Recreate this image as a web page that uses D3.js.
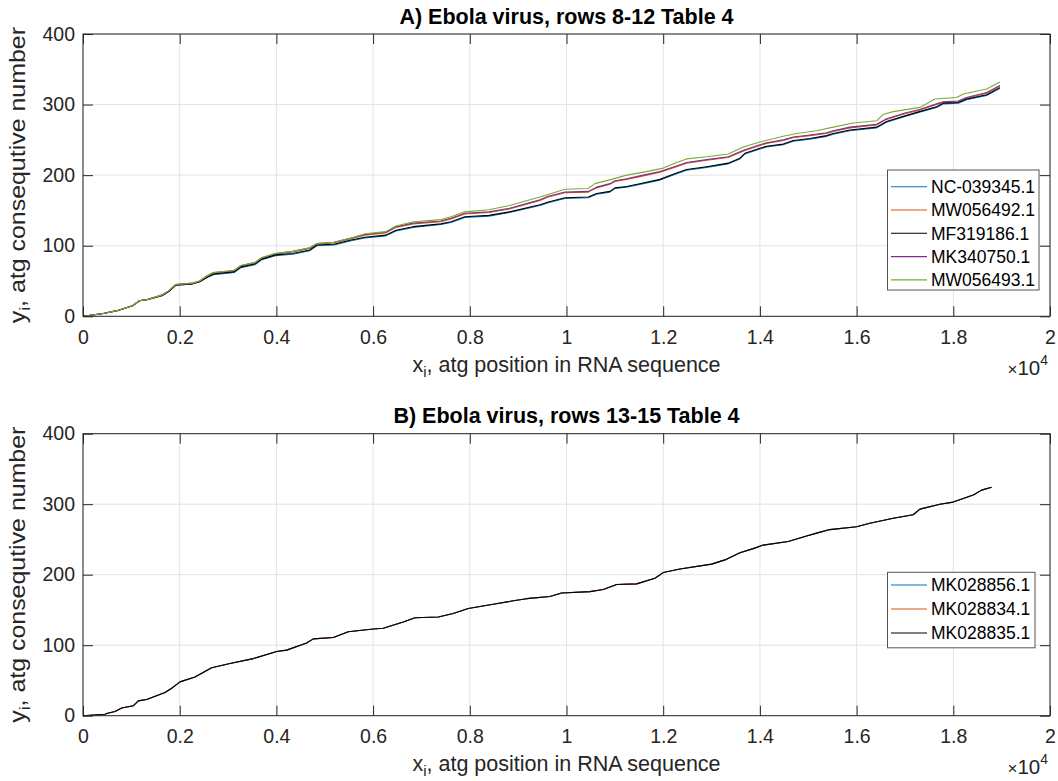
<!DOCTYPE html>
<html>
<head>
<meta charset="utf-8">
<script src="https://cdn.jsdelivr.net/npm/d3@7"></script>
<style>
  html, body { margin: 0; padding: 0; background: #ffffff; }
  svg { display: block; font-family: "Liberation Sans", Arial, Helvetica, sans-serif; }
</style>
</head>
<body>
<svg id="chart" width="1058" height="781"></svg>
<script>
// ---- Data: cumulative count of "atg" codons (y) against their position in the sequence (x) ----

// Panel A, rows 8-12 of Table 4
const nc039345 = [[0,0],[420,4],[704,8],[1025,15],[1168,22],[1345,24],[1630,29],[1773,35],[1915,44],[2271,46],[2414,49],[2560,55],[2699,59],[3127,62],[3268,69],[3553,73],[3696,80],[3981,86],[4337,88],[4692,93],[4835,100],[5191,101],[5546,107],[5832,111],[6260,114],[6473,121],[6829,126],[7400,130],[7612,133],[7897,140],[8396,142],[8822,147],[9451,157],[9623,161],[9968,167],[10450,168],[10623,173],[10898,176],[11002,181],[11244,183],[11587,188],[11932,193],[12277,202],[12484,207],[12898,211],[13345,216],[13587,223],[13690,230],[14000,237],[14139,240],[14483,243],[14689,248],[15035,251],[15380,255],[15516,258],[15862,263],[16414,267],[16620,275],[17000,283],[17300,289],[17655,296],[17792,301],[18102,302],[18275,307],[18690,313],[18964,323]];
const mw056492 = [[0,0],[420,4],[704,8],[1025,15],[1168,22],[1345,24],[1630,30],[1773,36],[1915,45],[2271,47],[2414,50],[2560,56],[2699,61],[3127,64],[3268,71],[3553,75],[3696,82],[3981,88],[4337,91],[4692,96],[4835,102],[5191,104],[5546,110],[5832,115],[6260,118],[6473,126],[6829,131],[7400,134],[7612,138],[7897,145],[8396,147],[8822,152],[9451,164],[9623,169],[9968,175],[10450,176],[10623,182],[10898,187],[11002,191],[11244,194],[11587,199],[11932,204],[12277,212],[12484,217],[12898,221],[13345,225],[13587,232],[13690,235],[14000,242],[14139,245],[14483,249],[14689,253],[15035,256],[15380,259],[15516,262],[15862,267],[16414,271],[16620,279],[17000,287],[17300,292],[17655,300],[17792,303],[18102,304],[18275,309],[18690,316],[18964,326]];
const mf319186 = [[0,0],[420,4],[704,8],[1025,15],[1168,22],[1345,24],[1630,29],[1773,35],[1915,44],[2271,46],[2414,49],[2560,55],[2699,60],[3127,63],[3268,70],[3553,74],[3696,81],[3981,87],[4337,89],[4692,94],[4835,101],[5191,102],[5546,108],[5832,112],[6260,115],[6473,122],[6829,127],[7400,131],[7612,134],[7897,141],[8396,143],[8822,148],[9451,158],[9623,162],[9968,168],[10450,169],[10623,174],[10898,177],[11002,182],[11244,184],[11587,189],[11932,194],[12277,203],[12484,208],[12898,212],[13345,217],[13587,224],[13690,231],[14000,238],[14139,241],[14483,244],[14689,249],[15035,252],[15380,256],[15516,259],[15862,264],[16414,268],[16620,276],[17000,284],[17300,290],[17655,297],[17792,302],[18102,303],[18275,308],[18690,314],[18964,324]];
const mk340750 = [[0,0],[420,4],[704,8],[1025,15],[1168,22],[1345,24],[1630,30],[1773,36],[1915,45],[2271,47],[2414,50],[2560,57],[2699,62],[3127,65],[3268,72],[3553,76],[3696,83],[3981,89],[4337,92],[4692,97],[4835,103],[5191,105],[5546,111],[5832,116],[6260,119],[6473,127],[6829,132],[7400,135],[7612,139],[7897,146],[8396,148],[8822,153],[9451,165],[9623,170],[9968,176],[10450,177],[10623,183],[10898,188],[11002,192],[11244,195],[11587,200],[11932,205],[12277,213],[12484,218],[12898,222],[13345,226],[13587,233],[13690,236],[14000,243],[14139,246],[14483,250],[14689,254],[15035,257],[15380,260],[15516,263],[15862,268],[16414,272],[16620,280],[17000,288],[17300,293],[17655,301],[17792,304],[18102,305],[18275,310],[18690,317],[18964,327]];
const mw056493 = [[0,0],[420,4],[704,8],[1025,15],[1168,22],[1345,24],[1630,30],[1773,36],[1915,45],[2271,47],[2414,50],[2560,57],[2699,62],[3127,65],[3268,72],[3553,76],[3696,83],[3981,89],[4337,92],[4692,97],[4835,103],[5191,105],[5546,111],[5832,117],[6260,120],[6473,128],[6829,134],[7400,137],[7612,141],[7897,148],[8396,151],[8822,157],[9451,169],[9968,180],[10450,181],[10588,188],[10933,194],[11244,200],[11657,205],[12001,210],[12277,218],[12484,223],[12898,226],[13345,230],[13655,240],[14000,247],[14483,255],[14759,259],[15173,263],[15516,268],[15930,274],[16414,277],[16551,286],[16758,290],[17310,296],[17620,308],[18068,310],[18206,315],[18690,322],[18964,332]];

// Panel B, rows 13-15 of Table 4 (the three sequences run on the same track)
const mk028835 = [[0,0],[455,2],[490,3],[662,6],[800,11],[1040,14],[1144,21],[1317,23],[1696,33],[1834,39],[2006,48],[2316,55],[2661,68],[3040,74],[3522,81],[4006,91],[4212,93],[4626,103],[4763,109],[5177,111],[5487,119],[6004,123],[6210,124],[6624,133],[6866,139],[7348,140],[7658,145],[7968,152],[8485,158],[8899,163],[9175,166],[9658,169],[9899,174],[10485,176],[10760,179],[11037,186],[11450,187],[11829,195],[12001,203],[12346,208],[13002,215],[13277,221],[13587,231],[13862,237],[14069,242],[14586,247],[14966,255],[15173,259],[15448,264],[16000,268],[16275,273],[16757,280],[17170,285],[17310,293],[17723,300],[17998,303],[18412,313],[18585,320],[18792,324]];
const mk028856 = mk028835;
const mk028834 = mk028835;

const xTicks = [0, 2000, 4000, 6000, 8000, 10000, 12000, 14000, 16000, 18000, 20000];
const yTicks = [0, 100, 200, 300, 400];

const panels = [
  {
    title: "A) Ebola virus, rows 8-12 Table 4",
    top: 34, bottom: 316.3,
    series: [
      { name: "NC-039345.1", color: "#0072BD", data: nc039345 },
      { name: "MW056492.1", color: "#D95319", data: mw056492 },
      { name: "MF319186.1", color: "#000000", data: mf319186 },
      { name: "MK340750.1", color: "#7E2F8E", data: mk340750 },
      { name: "MW056493.1", color: "#77AC30", data: mw056493 }
    ],
    legend: { x: 887.5, y: 170, w: 151.5, row: 23.3, first: 16.7 }
  },
  {
    title: "B) Ebola virus, rows 13-15 Table 4",
    top: 433.7, bottom: 715.7,
    series: [
      { name: "MK028856.1", color: "#0072BD", data: mk028856 },
      { name: "MK028834.1", color: "#D95319", data: mk028834 },
      { name: "MK028835.1", color: "#000000", data: mk028835 }
    ],
    legend: { x: 887.5, y: 572.3, w: 147.5, row: 24, first: 12.7 }
  }
];

// ---- Layout ----
const left = 83, right = 1050;
const axisColor = "#262626";
const gridColor = "#e3e3e3";
const tickLen = 10;
const fontTick = 19.5, fontLabel = 21.5, fontLegend = 17.5;

const svg = d3.select("#chart");

const x = d3.scaleLinear().domain([0, 20000]).range([left, right]);
const fmtX = d => String(+(d / 1e4).toFixed(1));

panels.forEach(p => {
  const y = d3.scaleLinear().domain([0, 400]).range([p.bottom, p.top]);
  const g = svg.append("g");

  // grid
  g.append("g").selectAll("line").data(xTicks).join("line")
    .attr("x1", d => x(d)).attr("x2", d => x(d))
    .attr("y1", p.top).attr("y2", p.bottom)
    .attr("stroke", gridColor).attr("stroke-width", 1);
  g.append("g").selectAll("line").data(yTicks).join("line")
    .attr("x1", left).attr("x2", right)
    .attr("y1", d => y(d)).attr("y2", d => y(d))
    .attr("stroke", gridColor).attr("stroke-width", 1);

  // data lines
  const line = d3.line().x(d => x(d[0])).y(d => y(d[1]));
  g.append("g").selectAll("path").data(p.series).join("path")
    .attr("d", s => line(s.data))
    .attr("fill", "none")
    .attr("stroke", s => s.color)
    .attr("stroke-width", 1.1)
    .attr("stroke-linejoin", "round");

  // axes (ticks pointing inward on all four sides)
  const styleAxis = sel => {
    sel.select(".domain").remove();
    sel.selectAll(".tick line").attr("stroke", axisColor);
    sel.selectAll(".tick text").attr("fill", axisColor).attr("font-size", fontTick);
  };
  g.append("g").attr("transform", `translate(0,${p.bottom})`)
    .call(d3.axisBottom(x).tickValues(xTicks).tickFormat(fmtX).tickSize(-tickLen).tickPadding(13.5))
    .call(styleAxis)
    .attr("font-family", null);
  g.append("g").attr("transform", `translate(0,${p.top})`)
    .call(d3.axisTop(x).tickValues(xTicks).tickFormat("").tickSize(-tickLen))
    .call(styleAxis);
  g.append("g").attr("transform", `translate(${left},0)`)
    .call(d3.axisLeft(y).tickValues(yTicks).tickFormat(d3.format("d")).tickSize(-tickLen).tickPadding(8))
    .call(styleAxis)
    .attr("font-family", null);
  g.append("g").attr("transform", `translate(${right},0)`)
    .call(d3.axisRight(y).tickValues(yTicks).tickFormat("").tickSize(-tickLen))
    .call(styleAxis);

  // box
  g.append("rect")
    .attr("x", left).attr("y", p.top)
    .attr("width", right - left).attr("height", p.bottom - p.top)
    .attr("fill", "none").attr("stroke", axisColor).attr("stroke-width", 1);

  // exponent marker
  const ex = g.append("text")
    .attr("x", right - 2).attr("y", p.bottom + 58.5)
    .attr("text-anchor", "end").attr("fill", axisColor).attr("font-size", 20.5);
  ex.append("tspan").attr("font-size", 17).text("\u00d7");
  ex.append("tspan").text("10");
  ex.append("tspan").attr("dy", -10).attr("font-size", 14).text("4");

  // title
  svg.append("text")
    .attr("x", (left + right) / 2).attr("y", p.top - 10.5)
    .attr("text-anchor", "middle").attr("font-weight", "bold")
    .attr("font-size", fontLabel).attr("fill", "#000").text(p.title);

  // x label
  const xl = svg.append("text")
    .attr("x", (left + right) / 2).attr("y", p.bottom + 55.5)
    .attr("text-anchor", "middle").attr("font-size", fontLabel).attr("fill", axisColor);
  xl.append("tspan").text("x");
  xl.append("tspan").attr("dy", 5).attr("font-size", 15).text("i");
  xl.append("tspan").attr("dy", -5).text(", atg position in RNA sequence");

  // y label, stretched along its run
  const yl = svg.append("text")
    .attr("transform", `translate(25,${(p.top + p.bottom) / 2}) rotate(-90) scale(1.16,1)`)
    .attr("text-anchor", "middle").attr("font-size", fontLabel).attr("fill", axisColor);
  yl.append("tspan").text("y");
  yl.append("tspan").attr("dy", 5).attr("font-size", 15).text("i");
  yl.append("tspan").attr("dy", -5).text(", atg consequtive number");

  // legend
  const L = p.legend;
  const lg = svg.append("g");
  lg.append("rect")
    .attr("x", L.x).attr("y", L.y)
    .attr("width", L.w).attr("height", L.row * p.series.length + 3.5)
    .attr("fill", "#fff").attr("stroke", "#555").attr("stroke-width", 1);
  const rows = lg.selectAll("g").data(p.series).join("g")
    .attr("transform", (d, i) => `translate(0,${L.y + L.first + i * L.row})`);
  rows.append("line")
    .attr("x1", L.x + 3.5).attr("x2", L.x + 39.5)
    .attr("stroke", d => d.color).attr("stroke-width", 1.1);
  rows.append("text")
    .attr("x", L.x + 43.5).attr("dy", "0.36em")
    .attr("font-size", fontLegend).attr("fill", "#000").text(d => d.name);
});
</script>
</body>
</html>
